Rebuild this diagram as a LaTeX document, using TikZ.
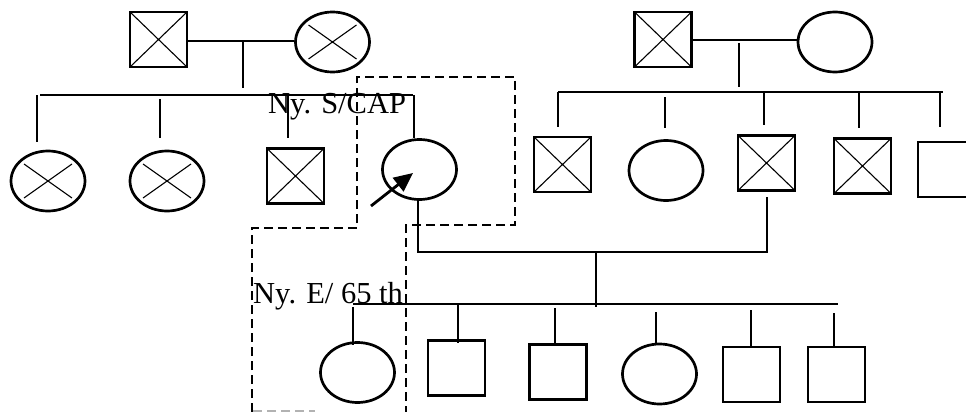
\documentclass[tikz,border=0pt]{standalone}
\usepackage{fontspec}
\setmainfont{Liberation Serif}
\usetikzlibrary{shapes.geometric,arrows.meta}
\begin{document}
\begin{tikzpicture}[x=1pt,y=-1pt,
  male/.style={draw,rectangle,line width=2.7pt,minimum width=57pt,minimum height=55pt,inner sep=0pt},
  female/.style={draw,ellipse,line width=2.7pt,minimum width=74pt,minimum height=60pt,inner sep=0pt},
  crossm/.style={path picture={\draw[line width=1.1pt]
     (path picture bounding box.north west) -- (path picture bounding box.south east)
     (path picture bounding box.north east) -- (path picture bounding box.south west);}},
  crossf/.style={path picture={\draw[line width=1.1pt]
     ([xshift=-24pt,yshift=17pt]path picture bounding box.center) -- ([xshift=24pt,yshift=-17pt]path picture bounding box.center)
     ([xshift=24pt,yshift=17pt]path picture bounding box.center) -- ([xshift=-24pt,yshift=-17pt]path picture bounding box.center);}},
  link/.style={line width=1.4pt},
  box/.style={line width=1.3pt,dash pattern=on 9pt off 5pt},
  lbl/.style={inner sep=0pt,font=\fontsize{30.5}{36}\selectfont}
]
\useasboundingbox[fill=white] (0,0) rectangle (966,412);

% ---------- Generation I ----------
\node[male,crossm]   (I1) at (158.5,39.5) {};
\node[female,crossf] (I2) at (332.5,42) {};
\node[male,crossm]   (I3) at (663,39.5) {};
\node[female]        (I4) at (835,42) {};

% ---------- Generation II ----------
\node[female,crossf] (II1) at (48,181) {};
\node[female,crossf] (II2) at (167,181) {};
\node[male,crossm]   (II3) at (295.5,176) {};
\node[female]        (II4) at (419.5,169.5) {};
\node[male,crossm]   (II5) at (562.5,164.5) {};
\node[female]        (II6) at (666,170.5) {};
\node[male,crossm]   (II7) at (766.5,163) {};
\node[male,crossm]   (II8) at (862.5,166) {};
\node[male]          (II9) at (946.5,169.5) {};

% ---------- Generation III ----------
\node[female] (III1) at (357.5,372.5) {};
\node[male]   (III2) at (456.5,368) {};
\node[male]   (III3) at (558,372) {};
\node[female] (III4) at (659.5,374) {};
\node[male]   (III5) at (751.5,374.5) {};
\node[male]   (III6) at (836.5,374.5) {};

% ---------- coordinates ----------
\coordinate (m1) at (243,41);   \coordinate (m1b) at (243,88);
\coordinate (s1l) at (40,95);   \coordinate (s1r) at (413,95);
\coordinate (m2) at (739,43);   \coordinate (m2b) at (739,87);
\coordinate (s2l) at (558,92);  \coordinate (s2r) at (943,92);
\coordinate (m3a) at (418,252); \coordinate (m3b) at (767,252);
\coordinate (m3c) at (767,197);
\coordinate (m3) at (596,253);  \coordinate (m3d) at (596,307);
\coordinate (s3l) at (353,304); \coordinate (s3r) at (838,304);

% ---------- left family ----------
\draw[link] (I1.east |- m1) -- (I2.west |- m1);
\draw[link] (m1) -- (m1b);
\draw[link] (s1l) -- (s1r);
\draw[link] (37,95) -- (37,142);
\draw[link] (160,99) -- (160,138);
\draw[link] (288,95) -- (288,138);
\draw[link] (414,95) -- (II4.north -| 414,0);

% ---------- right family ----------
\draw[link] (I3.east |- 0,40) -- (I4.west |- 0,40);
\draw[link] (m2) -- (m2b);
\draw[link] (s2l) -- (s2r);
\draw[link] (558,92) -- (558,127);
\draw[link] (665,97) -- (665,128);
\draw[link] (764,92) -- (764,125);
\draw[link] (859,92) -- (859,128);
\draw[link] (940,92) -- (940,127);

% ---------- marriage of proband ----------
\draw[link] (II4.south -| m3a) -- (m3a) -- (m3b) -- (m3c);
\draw[link] (m3) -- (m3d);
\draw[link] (s3l) -- (s3r);
\draw[link] (353,307) -- (353,345);
\draw[link] (458,304) -- (458,343);
\draw[link] (555,308) -- (555,343);
\draw[link] (656,312) -- (656,343);
\draw[link] (751,310) -- (751,346);
\draw[link] (834,313) -- (834,346);

% ---------- proband arrow ----------
\coordinate (arT) at (371,206);
\coordinate (arH) at (413,173);
\draw[line width=2.8pt,-{Triangle[length=19pt,width=17pt]}] (arT) -- (arH);

% ---------- dashed boxes ----------
\draw[box] (252,412) -- (252,228) -- (357,228) -- (357,77) -- (515,77) -- (515,225) -- (406,225) -- (406,412);
\draw[box,gray!60] (253,411) -- (315,411);

% ---------- labels ----------
\node[lbl,anchor=base west] (t1) at (268,113) {Ny. S/CAP};
\node[lbl,anchor=base west] (t2) at (253,303) {Ny. E/ 65 th};
\end{tikzpicture}
\end{document}
